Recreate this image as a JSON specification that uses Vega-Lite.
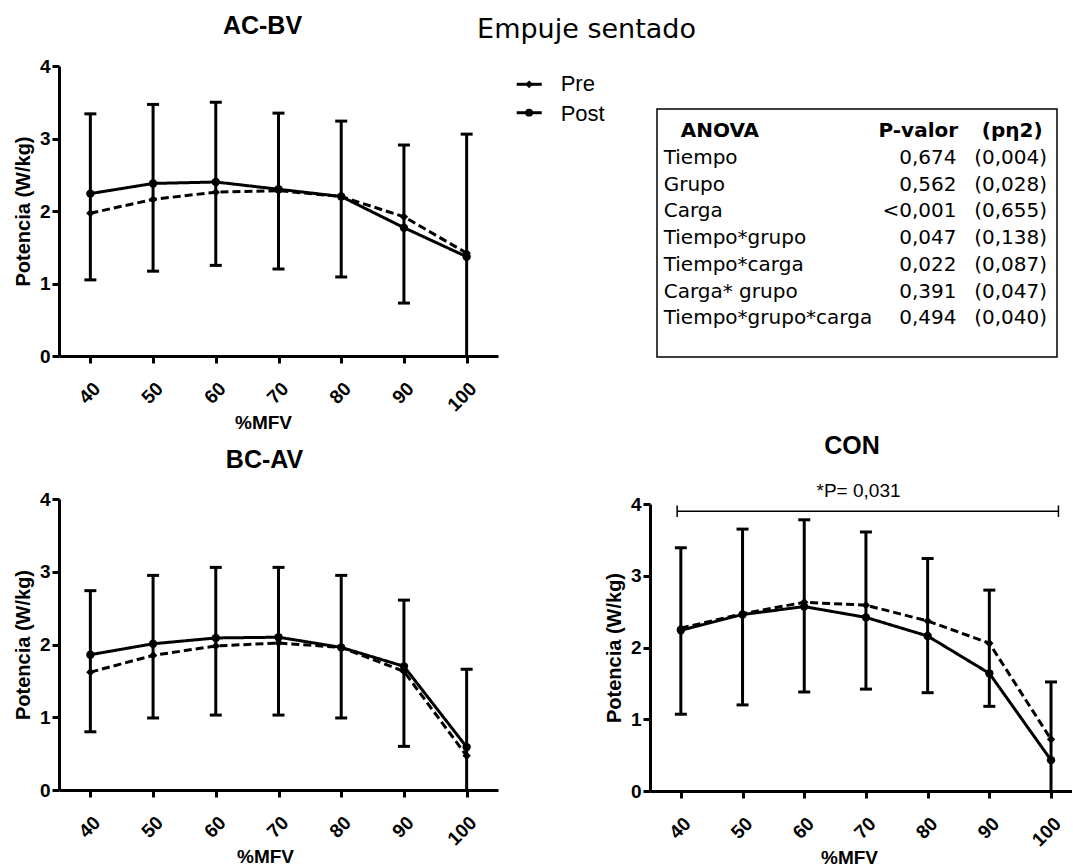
{
  "$schema": "https://vega.github.io/schema/vega-lite/v6.json",
  "background": "white",
  "padding": {"left": 13, "top": 14, "right": 0, "bottom": 0},
  "autosize": {"type": "pad"},
  "columns": 2,
  "bounds": "flush",
  "spacing": {"row": 143, "column": 152},
  "config": {
    "view": {"stroke": null},
    "font": "Liberation Sans",
    "axis": {"domainColor": "black", "domainWidth": 3, "tickColor": "black", "tickWidth": 3, "tickSize": 7, "grid": false,
      "labelFont": "Liberation Sans", "labelFontWeight": "bold", "labelFontSize": 19, "labelColor": "black",
      "titleFont": "Liberation Sans", "titleFontWeight": "bold", "titleFontSize": 20, "titleColor": "black"},
    "axisX": {"labelAngle": -45, "labelAlign": "right", "labelBaseline": "top", "labelPadding": 16, "titleY": 72, "titleBaseline": "alphabetic", "titleFontSize": 19},
    "axisY": {"labelPadding": 2, "titleX": -36, "titleBaseline": "middle"},
    "title": {"font": "Liberation Sans", "fontSize": 25, "fontWeight": "bold", "color": "black", "offset": 20}
  },
  "resolve": {"scale": {"x": "independent", "y": "independent", "shape": "independent", "strokeDash": "independent"}, "axis": {"x": "independent", "y": "independent"}},
  "datasets": {
    "means": [
      {"group": "AC-BV", "serie": "Pre", "load": 40, "value": 1.97},
      {"group": "AC-BV", "serie": "Pre", "load": 50, "value": 2.16},
      {"group": "AC-BV", "serie": "Pre", "load": 60, "value": 2.26},
      {"group": "AC-BV", "serie": "Pre", "load": 70, "value": 2.28},
      {"group": "AC-BV", "serie": "Pre", "load": 80, "value": 2.20},
      {"group": "AC-BV", "serie": "Pre", "load": 90, "value": 1.92},
      {"group": "AC-BV", "serie": "Pre", "load": 100, "value": 1.42},
      {"group": "AC-BV", "serie": "Post", "load": 40, "value": 2.24},
      {"group": "AC-BV", "serie": "Post", "load": 50, "value": 2.38},
      {"group": "AC-BV", "serie": "Post", "load": 60, "value": 2.40},
      {"group": "AC-BV", "serie": "Post", "load": 70, "value": 2.30},
      {"group": "AC-BV", "serie": "Post", "load": 80, "value": 2.20},
      {"group": "AC-BV", "serie": "Post", "load": 90, "value": 1.77},
      {"group": "AC-BV", "serie": "Post", "load": 100, "value": 1.37},
      {"group": "BC-AV", "serie": "Pre", "load": 40, "value": 1.62},
      {"group": "BC-AV", "serie": "Pre", "load": 50, "value": 1.85},
      {"group": "BC-AV", "serie": "Pre", "load": 60, "value": 1.98},
      {"group": "BC-AV", "serie": "Pre", "load": 70, "value": 2.02},
      {"group": "BC-AV", "serie": "Pre", "load": 80, "value": 1.96},
      {"group": "BC-AV", "serie": "Pre", "load": 90, "value": 1.63},
      {"group": "BC-AV", "serie": "Pre", "load": 100, "value": 0.47},
      {"group": "BC-AV", "serie": "Post", "load": 40, "value": 1.86},
      {"group": "BC-AV", "serie": "Post", "load": 50, "value": 2.01},
      {"group": "BC-AV", "serie": "Post", "load": 60, "value": 2.09},
      {"group": "BC-AV", "serie": "Post", "load": 70, "value": 2.10},
      {"group": "BC-AV", "serie": "Post", "load": 80, "value": 1.96},
      {"group": "BC-AV", "serie": "Post", "load": 90, "value": 1.70},
      {"group": "BC-AV", "serie": "Post", "load": 100, "value": 0.59},
      {"group": "CON", "serie": "Pre", "load": 40, "value": 2.27},
      {"group": "CON", "serie": "Pre", "load": 50, "value": 2.47},
      {"group": "CON", "serie": "Pre", "load": 60, "value": 2.63},
      {"group": "CON", "serie": "Pre", "load": 70, "value": 2.59},
      {"group": "CON", "serie": "Pre", "load": 80, "value": 2.37},
      {"group": "CON", "serie": "Pre", "load": 90, "value": 2.06},
      {"group": "CON", "serie": "Pre", "load": 100, "value": 0.72},
      {"group": "CON", "serie": "Post", "load": 40, "value": 2.24},
      {"group": "CON", "serie": "Post", "load": 50, "value": 2.46},
      {"group": "CON", "serie": "Post", "load": 60, "value": 2.57},
      {"group": "CON", "serie": "Post", "load": 70, "value": 2.42},
      {"group": "CON", "serie": "Post", "load": 80, "value": 2.16},
      {"group": "CON", "serie": "Post", "load": 90, "value": 1.64},
      {"group": "CON", "serie": "Post", "load": 100, "value": 0.43}
    ],
    "errs": [
      {"group": "AC-BV", "load": 40, "lo": 1.05, "hi": 3.34},
      {"group": "AC-BV", "load": 50, "lo": 1.17, "hi": 3.47},
      {"group": "AC-BV", "load": 60, "lo": 1.25, "hi": 3.50},
      {"group": "AC-BV", "load": 70, "lo": 1.20, "hi": 3.35},
      {"group": "AC-BV", "load": 80, "lo": 1.09, "hi": 3.24},
      {"group": "AC-BV", "load": 90, "lo": 0.73, "hi": 2.91},
      {"group": "AC-BV", "load": 100, "lo": 0, "hi": 3.06},
      {"group": "BC-AV", "load": 40, "lo": 0.80, "hi": 2.74},
      {"group": "BC-AV", "load": 50, "lo": 0.99, "hi": 2.95},
      {"group": "BC-AV", "load": 60, "lo": 1.03, "hi": 3.06},
      {"group": "BC-AV", "load": 70, "lo": 1.03, "hi": 3.06},
      {"group": "BC-AV", "load": 80, "lo": 0.99, "hi": 2.95},
      {"group": "BC-AV", "load": 90, "lo": 0.60, "hi": 2.61},
      {"group": "BC-AV", "load": 100, "lo": 0, "hi": 1.66},
      {"group": "CON", "load": 40, "lo": 1.07, "hi": 3.39},
      {"group": "CON", "load": 50, "lo": 1.20, "hi": 3.65},
      {"group": "CON", "load": 60, "lo": 1.38, "hi": 3.78},
      {"group": "CON", "load": 70, "lo": 1.42, "hi": 3.61},
      {"group": "CON", "load": 80, "lo": 1.37, "hi": 3.24},
      {"group": "CON", "load": 90, "lo": 1.18, "hi": 2.80},
      {"group": "CON", "load": 100, "lo": 0, "hi": 1.52}
    ],
    "anova": [
      {"term": "Tiempo", "p": "0,674", "eta": "(0,004)"},
      {"term": "Grupo", "p": "0,562", "eta": "(0,028)"},
      {"term": "Carga", "p": "<0,001", "eta": "(0,655)"},
      {"term": "Tiempo*grupo", "p": "0,047", "eta": "(0,138)"},
      {"term": "Tiempo*carga", "p": "0,022", "eta": "(0,087)"},
      {"term": "Carga* grupo", "p": "0,391", "eta": "(0,047)"},
      {"term": "Tiempo*grupo*carga", "p": "0,494", "eta": "(0,040)"}
    ],
    "anovaHeader": [{"term": "ANOVA", "p": "P-valor", "eta": "(pη2)"}],
    "legend": [{"serie": "Pre"}, {"serie": "Post"}],
    "labels": [{"title": "Empuje sentado", "sig": "*P= 0,031"}]
  },
  "concat": [
    {
      "width": 439, "height": 290,
      "title": {"text": "AC-BV", "dx": -16, "offset": 18},
      "layer": [
        {"data": {"name": "errs"}, "transform": [{"filter": "datum.group === 'AC-BV'"}],
         "mark": {"type": "rule", "color": "black", "strokeWidth": 3},
         "encoding": {
           "x": {"field": "load", "type": "quantitative", "scale": {"domain": [35, 105], "nice": false, "zero": false}, "axis": {"values": [40, 50, 60, 70, 80, 90, 100], "format": "d", "title": "%MFV", "titleX": 204}},
           "y": {"field": "lo", "type": "quantitative", "scale": {"domain": [0, 4], "nice": false}, "axis": {"values": [0, 1, 2, 3, 4], "format": "d", "title": "Potencia (W/kg)"}},
           "y2": {"field": "hi"}}},
        {"data": {"name": "errs"}, "transform": [{"filter": "datum.group === 'AC-BV'"}],
         "mark": {"type": "tick", "orient": "horizontal", "color": "black", "thickness": 3, "size": 12, "opacity": 1},
         "encoding": {"x": {"field": "load", "type": "quantitative"}, "y": {"field": "hi", "type": "quantitative"}}},
        {"data": {"name": "errs"}, "transform": [{"filter": "datum.group === 'AC-BV' && datum.lo > 0"}],
         "mark": {"type": "tick", "orient": "horizontal", "color": "black", "thickness": 3, "size": 12, "opacity": 1},
         "encoding": {"x": {"field": "load", "type": "quantitative"}, "y": {"field": "lo", "type": "quantitative"}}},
        {"data": {"name": "means"}, "transform": [{"filter": "datum.group === 'AC-BV'"}],
         "mark": {"type": "line", "color": "black", "strokeWidth": 3},
         "encoding": {"x": {"field": "load", "type": "quantitative"}, "y": {"field": "value", "type": "quantitative"},
           "strokeDash": {"field": "serie", "type": "nominal", "scale": {"domain": ["Pre", "Post"], "range": [[8, 4], [1, 0]]}, "legend": null}}},
        {"data": {"name": "means"}, "transform": [{"filter": "datum.group === 'AC-BV'"}],
         "mark": {"type": "point", "filled": true, "color": "black", "opacity": 1, "size": 70},
         "encoding": {"x": {"field": "load", "type": "quantitative"}, "y": {"field": "value", "type": "quantitative"},
           "shape": {"field": "serie", "type": "nominal", "scale": {"domain": ["Pre", "Post"], "range": ["diamond", "circle"]}, "legend": null}}}
      ]
    },
    {
      "width": 407, "height": 290,
      "layer": [
        {"data": {"values": [{}]},
         "mark": {"type": "rect", "fill": null, "stroke": "black", "strokeWidth": 1.5},
         "encoding": {
           "x": {"datum": 1.72, "type": "quantitative", "scale": {"domain": [0, 100], "nice": false, "zero": false}, "axis": null},
           "x2": {"datum": 100},
           "y": {"datum": -1.06, "type": "quantitative", "scale": {"domain": [-2.67, 8.19], "nice": false, "zero": false, "reverse": true}, "axis": null},
           "y2": {"datum": 8.23}}},
        {"data": {"name": "anovaHeader"},
         "mark": {"type": "text", "align": "left", "baseline": "alphabetic", "font": "DejaVu Sans", "fontWeight": "bold", "fontSize": 20, "color": "black"},
         "encoding": {"x": {"datum": 7.57, "type": "quantitative", "axis": null}, "y": {"datum": 0, "type": "quantitative", "axis": null}, "text": {"field": "term"}}},
        {"data": {"name": "anovaHeader"},
         "mark": {"type": "text", "align": "right", "baseline": "alphabetic", "font": "DejaVu Sans", "fontWeight": "bold", "fontSize": 20, "color": "black"},
         "encoding": {"x": {"datum": 75.7, "type": "quantitative", "axis": null}, "y": {"datum": 0, "type": "quantitative", "axis": null}, "text": {"field": "p"}}},
        {"data": {"name": "anovaHeader"},
         "mark": {"type": "text", "align": "center", "baseline": "alphabetic", "font": "DejaVu Sans", "fontWeight": "bold", "fontSize": 20, "color": "black"},
         "encoding": {"x": {"datum": 89, "type": "quantitative", "axis": null}, "y": {"datum": 0, "type": "quantitative", "axis": null}, "text": {"field": "eta"}}},
        {"data": {"name": "anova"}, "transform": [{"window": [{"op": "row_number", "as": "r"}]}],
         "mark": {"type": "text", "align": "left", "baseline": "alphabetic", "font": "DejaVu Sans", "fontSize": 20, "color": "black"},
         "encoding": {"x": {"datum": 3.37, "type": "quantitative", "axis": null}, "y": {"field": "r", "type": "quantitative", "axis": null}, "text": {"field": "term"}}},
        {"data": {"name": "anova"}, "transform": [{"window": [{"op": "row_number", "as": "r"}]}],
         "mark": {"type": "text", "align": "right", "baseline": "alphabetic", "font": "DejaVu Sans", "fontSize": 20, "color": "black"},
         "encoding": {"x": {"datum": 75.3, "type": "quantitative", "axis": null}, "y": {"field": "r", "type": "quantitative", "axis": null}, "text": {"field": "p"}}},
        {"data": {"name": "anova"}, "transform": [{"window": [{"op": "row_number", "as": "r"}]}],
         "mark": {"type": "text", "align": "center", "baseline": "alphabetic", "font": "DejaVu Sans", "fontSize": 20, "color": "black"},
         "encoding": {"x": {"datum": 88.6, "type": "quantitative", "axis": null}, "y": {"field": "r", "type": "quantitative", "axis": null}, "text": {"field": "eta"}}},
        {"data": {"name": "legend"}, "transform": [{"filter": "datum.serie === 'Pre'"}],
         "mark": {"type": "rule", "color": "black", "strokeWidth": 3},
         "encoding": {"x": {"datum": -32.75, "type": "quantitative", "axis": null}, "x2": {"datum": -26.6}, "y": {"datum": -1.985, "type": "quantitative", "axis": null}}},
        {"data": {"name": "legend"}, "transform": [{"filter": "datum.serie === 'Post'"}],
         "mark": {"type": "rule", "color": "black", "strokeWidth": 3},
         "encoding": {"x": {"datum": -32.75, "type": "quantitative", "axis": null}, "x2": {"datum": -26.6}, "y": {"datum": -0.92, "type": "quantitative", "axis": null}}},
        {"data": {"name": "legend"}, "transform": [{"filter": "datum.serie === 'Pre'"}],
         "mark": {"type": "point", "shape": "diamond", "filled": true, "color": "black", "opacity": 1, "size": 60},
         "encoding": {"x": {"datum": -29.7, "type": "quantitative", "axis": null}, "y": {"datum": -1.985, "type": "quantitative", "axis": null}}},
        {"data": {"name": "legend"}, "transform": [{"filter": "datum.serie === 'Post'"}],
         "mark": {"type": "point", "shape": "circle", "filled": true, "color": "black", "opacity": 1, "size": 60},
         "encoding": {"x": {"datum": -29.7, "type": "quantitative", "axis": null}, "y": {"datum": -0.92, "type": "quantitative", "axis": null}}},
        {"data": {"name": "legend"}, "transform": [{"filter": "datum.serie === 'Pre'"}],
         "mark": {"type": "text", "align": "left", "baseline": "alphabetic", "font": "Liberation Sans", "fontSize": 22, "color": "black"},
         "encoding": {"x": {"datum": -21.95, "type": "quantitative", "axis": null}, "y": {"datum": -1.72, "type": "quantitative", "axis": null}, "text": {"field": "serie"}}},
        {"data": {"name": "legend"}, "transform": [{"filter": "datum.serie === 'Post'"}],
         "mark": {"type": "text", "align": "left", "baseline": "alphabetic", "font": "Liberation Sans", "fontSize": 22, "color": "black"},
         "encoding": {"x": {"datum": -21.95, "type": "quantitative", "axis": null}, "y": {"datum": -0.6, "type": "quantitative", "axis": null}, "text": {"field": "serie"}}},
        {"data": {"name": "labels"},
         "mark": {"type": "text", "align": "center", "baseline": "alphabetic", "font": "DejaVu Sans", "fontSize": 27, "color": "black"},
         "encoding": {"x": {"datum": -15.6, "type": "quantitative", "axis": null}, "y": {"datum": -3.71, "type": "quantitative", "axis": null}, "text": {"field": "title"}}}
      ]
    },
    {
      "width": 439, "height": 291,
      "title": {"text": "BC-AV", "dx": -14, "offset": 17},
      "layer": [
        {"data": {"name": "errs"}, "transform": [{"filter": "datum.group === 'BC-AV'"}],
         "mark": {"type": "rule", "color": "black", "strokeWidth": 3},
         "encoding": {
           "x": {"field": "load", "type": "quantitative", "scale": {"domain": [35, 105], "nice": false, "zero": false}, "axis": {"values": [40, 50, 60, 70, 80, 90, 100], "format": "d", "title": "%MFV", "titleX": 206}},
           "y": {"field": "lo", "type": "quantitative", "scale": {"domain": [0, 4], "nice": false}, "axis": {"values": [0, 1, 2, 3, 4], "format": "d", "title": "Potencia (W/kg)"}},
           "y2": {"field": "hi"}}},
        {"data": {"name": "errs"}, "transform": [{"filter": "datum.group === 'BC-AV'"}],
         "mark": {"type": "tick", "orient": "horizontal", "color": "black", "thickness": 3, "size": 12, "opacity": 1},
         "encoding": {"x": {"field": "load", "type": "quantitative"}, "y": {"field": "hi", "type": "quantitative"}}},
        {"data": {"name": "errs"}, "transform": [{"filter": "datum.group === 'BC-AV' && datum.lo > 0"}],
         "mark": {"type": "tick", "orient": "horizontal", "color": "black", "thickness": 3, "size": 12, "opacity": 1},
         "encoding": {"x": {"field": "load", "type": "quantitative"}, "y": {"field": "lo", "type": "quantitative"}}},
        {"data": {"name": "means"}, "transform": [{"filter": "datum.group === 'BC-AV'"}],
         "mark": {"type": "line", "color": "black", "strokeWidth": 3},
         "encoding": {"x": {"field": "load", "type": "quantitative"}, "y": {"field": "value", "type": "quantitative"},
           "strokeDash": {"field": "serie", "type": "nominal", "scale": {"domain": ["Pre", "Post"], "range": [[8, 4], [1, 0]]}, "legend": null}}},
        {"data": {"name": "means"}, "transform": [{"filter": "datum.group === 'BC-AV'"}],
         "mark": {"type": "point", "filled": true, "color": "black", "opacity": 1, "size": 70},
         "encoding": {"x": {"field": "load", "type": "quantitative"}, "y": {"field": "value", "type": "quantitative"},
           "shape": {"field": "serie", "type": "nominal", "scale": {"domain": ["Pre", "Post"], "range": ["diamond", "circle"]}, "legend": null}}}
      ]
    },
    {
      "width": 422, "height": 292,
      "title": {"text": "CON", "dx": -9, "offset": 23},
      "layer": [
        {"data": {"name": "errs"}, "transform": [{"filter": "datum.group === 'CON'"}],
         "mark": {"type": "rule", "color": "black", "strokeWidth": 3},
         "encoding": {
           "x": {"field": "load", "type": "quantitative", "scale": {"domain": [35, 103.4], "nice": false, "zero": false}, "axis": {"values": [40, 50, 60, 70, 80, 90, 100], "format": "d", "title": "%MFV", "titleX": 199}},
           "y": {"field": "lo", "type": "quantitative", "scale": {"domain": [0, 4], "nice": false, "range": [292, 5]}, "axis": {"values": [0, 1, 2, 3, 4], "format": "d", "title": "Potencia (W/kg)"}},
           "y2": {"field": "hi"}}},
        {"data": {"name": "errs"}, "transform": [{"filter": "datum.group === 'CON'"}],
         "mark": {"type": "tick", "orient": "horizontal", "color": "black", "thickness": 3, "size": 12, "opacity": 1},
         "encoding": {"x": {"field": "load", "type": "quantitative"}, "y": {"field": "hi", "type": "quantitative"}}},
        {"data": {"name": "errs"}, "transform": [{"filter": "datum.group === 'CON' && datum.lo > 0"}],
         "mark": {"type": "tick", "orient": "horizontal", "color": "black", "thickness": 3, "size": 12, "opacity": 1},
         "encoding": {"x": {"field": "load", "type": "quantitative"}, "y": {"field": "lo", "type": "quantitative"}}},
        {"data": {"name": "means"}, "transform": [{"filter": "datum.group === 'CON'"}],
         "mark": {"type": "line", "color": "black", "strokeWidth": 3},
         "encoding": {"x": {"field": "load", "type": "quantitative"}, "y": {"field": "value", "type": "quantitative"},
           "strokeDash": {"field": "serie", "type": "nominal", "scale": {"domain": ["Pre", "Post"], "range": [[8, 4], [1, 0]]}, "legend": null}}},
        {"data": {"name": "means"}, "transform": [{"filter": "datum.group === 'CON'"}],
         "mark": {"type": "point", "filled": true, "color": "black", "opacity": 1, "size": 70},
         "encoding": {"x": {"field": "load", "type": "quantitative"}, "y": {"field": "value", "type": "quantitative"},
           "shape": {"field": "serie", "type": "nominal", "scale": {"domain": ["Pre", "Post"], "range": ["diamond", "circle"]}, "legend": null}}},
        {"data": {"name": "labels"},
         "mark": {"type": "rule", "color": "black", "strokeWidth": 1.5},
         "encoding": {"x": {"datum": 39.4, "type": "quantitative"}, "x2": {"datum": 101.2}, "y": {"datum": 3.9, "type": "quantitative"}}},
        {"data": {"name": "labels"},
         "mark": {"type": "rule", "color": "black", "strokeWidth": 1.5},
         "encoding": {"x": {"datum": 39.4, "type": "quantitative"}, "y": {"datum": 3.82, "type": "quantitative"}, "y2": {"datum": 3.98}}},
        {"data": {"name": "labels"},
         "mark": {"type": "rule", "color": "black", "strokeWidth": 1.5},
         "encoding": {"x": {"datum": 101.2, "type": "quantitative"}, "y": {"datum": 3.82, "type": "quantitative"}, "y2": {"datum": 3.98}}},
        {"data": {"name": "labels"},
         "mark": {"type": "text", "align": "center", "baseline": "alphabetic", "font": "Liberation Sans", "fontSize": 19, "color": "black"},
         "encoding": {"x": {"datum": 68.8, "type": "quantitative"}, "y": {"datum": 4.1, "type": "quantitative"}, "text": {"field": "sig"}}}
      ]
    }
  ]
}
